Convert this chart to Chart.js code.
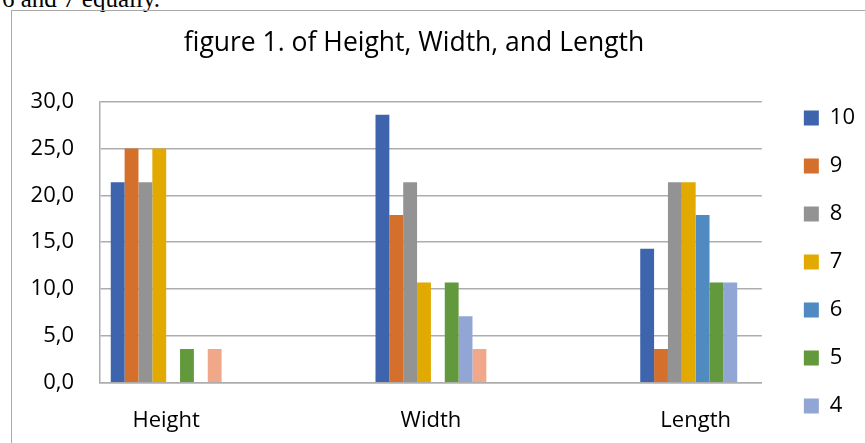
<!DOCTYPE html>
<html>
<head>
<meta charset="utf-8">
<script src="https://cdn.jsdelivr.net/npm/chart.js@4.4.1/dist/chart.umd.min.js"></script>
<style>
  body { margin: 0; width: 865px; height: 443px; overflow: hidden; background: #fff; position: relative; }
  #above { position: absolute; left: 2px; top: -14px; font: 25px/1 "Liberation Serif", serif; color: #000; white-space: nowrap; }
  #frame { position: absolute; left: 11px; top: 10px; width: 900px; height: 500px; border: 1.5px solid #a8a8a8; }
  #wrap { position: absolute; left: -37px; top: 0; width: 902px; height: 572px; }
</style>
</head>
<body>
<div id="above">6 and 7 equally.</div>
<div id="frame"></div>
<div id="wrap"><canvas id="chart"></canvas></div>
<script>
const categories = ['Height', 'Width', 'Length']
const seriesNames = ['10', '9', '8', '7', '6', '5', '4', '3']
const s10 = [21.4, 28.6, 14.3]
const s9 = [25.0, 17.9, 3.6]
const s8 = [21.4, 21.4, 21.4]
const s7 = [25.0, 10.7, 21.4]
const s6 = [0, 0, 17.9]
const s5 = [3.6, 10.7, 10.7]
const s4 = [0, 7.1, 10.7]
const s3 = [3.6, 3.6, 0]
const yTicks = [0, 5, 10, 15, 20, 25, 30]

const seriesValues = [s10, s9, s8, s7, s6, s5, s4, s3]
const colors = ['#3d64ad', '#d4702b', '#939393', '#e2aa00', '#4f8ac0', '#63993d', '#92a6d6', '#f1a88a']

const font = { family: '"Open Sans", sans-serif', size: 22 }
const gridColor = '#adadad'

const datasets = seriesNames.map((name, k) => ({
    label: name,
    data: seriesValues[k].map((v, i) => ({ x: i, y: v })),
    backgroundColor: colors[k],
    borderWidth: 0,
    categoryPercentage: 0.4187,
    barPercentage: 1.0
}))

new Chart(document.getElementById('chart'), {
    type: 'bar',
    data: { datasets: datasets },
    options: {
        responsive: true,
        maintainAspectRatio: false,
        animation: false,
        layout: { padding: 0 },
        plugins: {
            title: {
                display: true,
                text: 'figure 1. of Height, Width, and Length',
                color: '#000',
                font: { family: '"Open Sans", sans-serif', size: 26.5, weight: 'normal' },
                padding: { top: 28, bottom: 41.9 }
            },
            legend: {
                position: 'right',
                align: 'center',
                labels: {
                    color: '#000',
                    font: font,
                    boxWidth: 15,
                    boxHeight: 15,
                    padding: 26
                }
            },
            tooltip: { enabled: false }
        },
        scales: {
            x: {
                type: 'linear',
                min: -0.25,
                max: 2.25,
                offset: false,
                grid: { display: false, offset: false },
                border: { display: true, color: gridColor, width: 1.5 },
                afterBuildTicks: (s) => { s.ticks = categories.map((c, i) => ({ value: i })) },
                afterFit: (s) => { s.height = 189.3 },
                ticks: {
                    color: '#000',
                    font: font,
                    padding: 17,
                    maxRotation: 0,
                    autoSkip: false,
                    callback: (value) => categories[value]
                }
            },
            y: {
                min: 0,
                max: 30,
                afterBuildTicks: (s) => { s.ticks = yTicks.map(v => ({ value: v })) },
                afterFit: (s) => { s.width = 137 },
                grid: { color: gridColor, lineWidth: 1.5, drawTicks: false },
                border: { display: true, color: gridColor, width: 1.5 },
                ticks: {
                    color: '#000',
                    font: font,
                    padding: 26,
                    callback: (value) => value.toFixed(1).replace('.', ',')
                }
            },
            y2: {
                position: 'right',
                display: true,
                grid: { display: false },
                border: { display: false },
                ticks: { display: false },
                afterFit: (s) => { s.width = 16 }
            }
        }
    }
})
</script>
</body>
</html>
